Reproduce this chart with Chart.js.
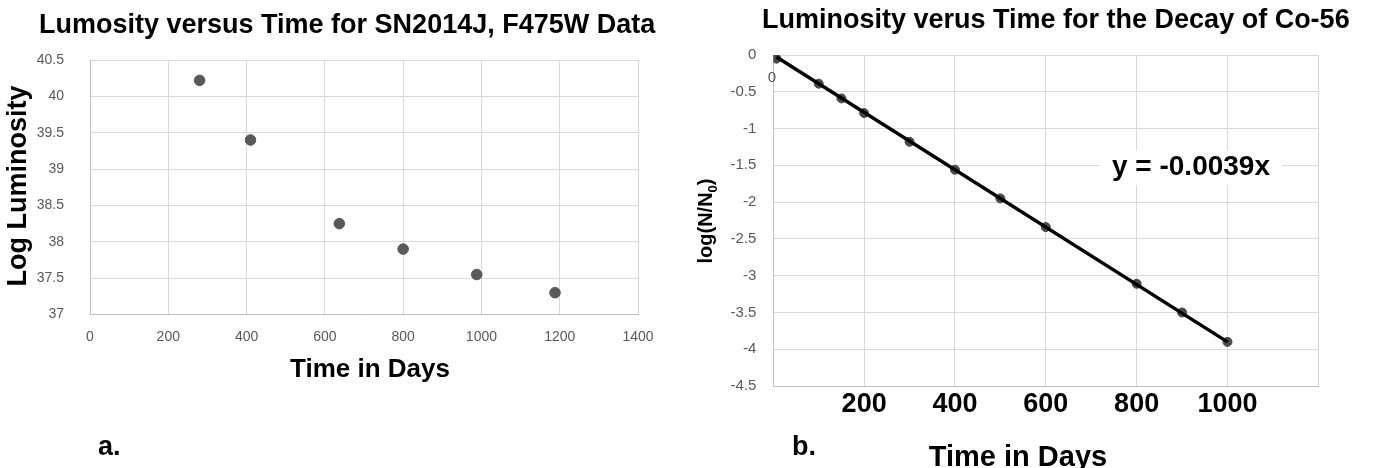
<!DOCTYPE html>
<html>
<head>
<meta charset="utf-8">
<script src="https://cdn.jsdelivr.net/npm/chart.js@4.4.0/dist/chart.umd.min.js"></script>
<style>
  html, body { margin: 0; padding: 0; background: #fff; }
  #wrap { position: relative; width: 1375px; height: 468px; overflow: hidden; }
  #boxA { position: absolute; left: 0; top: 0; width: 690px; height: 468px; }
  #boxB { position: absolute; left: 690px; top: 0; width: 685px; height: 468px; }
</style>
</head>
<body>
<div id="wrap">
  <div id="boxA"><canvas id="chartA" width="690" height="468"></canvas></div>
  <div id="boxB"><canvas id="chartB" width="685" height="468"></canvas></div>
</div>
<script>
// ---- datos panel a (SN2014J, F475W) ----
const diasA = [280, 410, 637, 800, 988, 1188];
const logLumA = [40.22, 39.40, 38.25, 37.90, 37.55, 37.30];
const ticksXA = [0, 200, 400, 600, 800, 1000, 1200, 1400];
const ticksYA = [37, 37.5, 38, 38.5, 39, 39.5, 40, 40.5];

// ---- datos panel b (Co-56) ----
const diasB = [7, 100, 150, 200, 300, 400, 500, 600, 800, 900, 1000];
const logNB = [-0.05, -0.39, -0.59, -0.79, -1.18, -1.56, -1.95, -2.34, -3.11, -3.50, -3.90];
const pendienteB = -0.0039;   // linea de tendencia, y = -0.0039x
const ticksXB = [0, 200, 400, 600, 800, 1000, 1200];
const etiquetasXB = ['', '200', '400', '600', '800', '1000', ''];
const ticksYB = [0, -0.5, -1, -1.5, -2, -2.5, -3, -3.5, -4, -4.5];

const FAM = "'Liberation Sans', Arial, sans-serif";
const GRIS = '#595959';
const GRID = '#d9d9d9';

// fija los ticks a partir de una lista
function fijarTicks(lista) {
  return function (scale) { scale.ticks = lista.map(v => ({ value: v })); };
}

// dibuja textos sueltos (titulos, etiquetas) sobre el canvas
function pluginTextos(items) {
  return {
    id: 'textos',
    afterDraw(chart) {
      const ctx = chart.ctx;
      items.forEach(t => {
        ctx.save();
        ctx.font = t.font;
        ctx.fillStyle = t.color || '#000';
        ctx.textAlign = t.align || 'center';
        ctx.textBaseline = 'alphabetic';
        if (t.fondo) {
          ctx.fillStyle = '#fff';
          ctx.fillRect(t.fondo[0], t.fondo[1], t.fondo[2], t.fondo[3]);
          ctx.fillStyle = t.color || '#000';
        }
        ctx.translate(t.x, t.y);
        if (t.rot) ctx.rotate(t.rot);
        if (t.sub) {
          // texto con subindice: partes [normal, sub, normal]
          const normal = t.font;
          const chico = t.fontSub;
          ctx.font = normal;
          const w1 = ctx.measureText(t.sub[0]).width;
          const w3 = ctx.measureText(t.sub[2]).width;
          ctx.font = chico;
          const w2 = ctx.measureText(t.sub[1]).width;
          let x = -(w1 + w2 + w3) / 2;
          ctx.textAlign = 'left';
          ctx.font = normal; ctx.fillText(t.sub[0], x, 0); x += w1;
          ctx.font = chico; ctx.fillText(t.sub[1], x, 5); x += w2;
          ctx.font = normal; ctx.fillText(t.sub[2], x, 0);
        } else {
          ctx.fillText(t.text, 0, 0);
        }
        ctx.restore();
      });
    }
  };
}

// ---------- Grafico a ----------
new Chart(document.getElementById('chartA'), {
  type: 'scatter',
  data: {
    datasets: [{
      data: diasA.map((d, i) => ({ x: d, y: logLumA[i] })),
      backgroundColor: GRIS,
      borderColor: GRIS,
      pointRadius: 5.3,
      pointHoverRadius: 5.3
    }]
  },
  options: {
    responsive: false,
    animation: false,
    layout: { padding: { left: 0, top: 60, right: 52, bottom: 93.5 } },
    plugins: { legend: { display: false }, tooltip: { enabled: false }, title: { display: false } },
    scales: {
      x: {
        type: 'linear', min: 0, max: 1400,
        afterBuildTicks: fijarTicks(ticksXA),
        afterFit: s => { s.height = 60; },
        grid: { color: GRID, drawTicks: false },
        border: { color: '#bfbfbf' },
        ticks: { color: GRIS, padding: 14, font: { family: FAM, size: 14 }, maxRotation: 0, callback: v => String(v) }
      },
      y: {
        type: 'linear', min: 37, max: 40.5,
        afterBuildTicks: fijarTicks(ticksYA),
        afterFit: s => { s.width = 90; },
        grid: { color: GRID, drawTicks: false },
        border: { color: '#bfbfbf' },
        ticks: { color: GRIS, padding: 26, font: { family: FAM, size: 14 }, callback: v => String(v) }
      }
    }
  },
  plugins: [pluginTextos([
    { text: 'Lumosity versus Time for SN2014J, F475W Data', x: 39, y: 33, align: 'left', font: 'bold 27px ' + FAM },
    { text: 'Log Luminosity', x: 26, y: 186, rot: -Math.PI / 2, font: 'bold 27px ' + FAM },
    { text: 'Time in Days', x: 370, y: 377, font: 'bold 26px ' + FAM },
    { text: 'a.', x: 98, y: 455, align: 'left', font: 'bold 27px ' + FAM }
  ])]
});

// ---------- Grafico b ----------
const xMinB = Math.min(...diasB);
const xMaxB = Math.max(...diasB);

new Chart(document.getElementById('chartB'), {
  type: 'scatter',
  data: {
    datasets: [
      {
        // linea de tendencia (encima de los puntos)
        data: [{ x: xMinB, y: pendienteB * xMinB }, { x: xMaxB, y: pendienteB * xMaxB }],
        showLine: true,
        borderColor: '#000',
        borderWidth: 3.5,
        pointRadius: 0,
        pointHoverRadius: 0
      },
      {
        data: diasB.map((d, i) => ({ x: d, y: logNB[i] })),
        backgroundColor: '#4a4a4a',
        borderColor: '#4a4a4a',
        pointRadius: 4.5,
        pointHoverRadius: 4.5
      }
    ]
  },
  options: {
    responsive: false,
    animation: false,
    layout: { padding: { left: 0, top: 55, right: 56.7, bottom: 32 } },
    plugins: { legend: { display: false }, tooltip: { enabled: false }, title: { display: false } },
    scales: {
      x: {
        type: 'linear', min: 0, max: 1200,
        afterBuildTicks: fijarTicks(ticksXB),
        afterFit: s => { s.height = 50; },
        grid: { color: GRID, drawTicks: false },
        border: { color: '#bfbfbf' },
        ticks: {
          color: '#000', padding: 2, maxRotation: 0,
          font: { family: FAM, size: 27, weight: 'bold' },
          callback: (v, i) => etiquetasXB[i]
        }
      },
      y: {
        type: 'linear', min: -4.5, max: 0,
        afterBuildTicks: fijarTicks(ticksYB),
        afterFit: s => { s.width = 83.3; },
        grid: { color: GRID, drawTicks: false },
        border: { color: '#bfbfbf' },
        ticks: { color: GRIS, padding: 17, font: { family: FAM, size: 15 }, callback: v => String(v) }
      }
    }
  },
  plugins: [pluginTextos([
    { text: 'Luminosity verus Time for the Decay of Co-56', x: 72, y: 28, align: 'left', font: 'bold 27px ' + FAM },
    { sub: ['log(N/N', '0', ')'], x: 22, y: 221, rot: -Math.PI / 2, font: 'bold 20px ' + FAM, fontSub: 'bold 13px ' + FAM },
    { text: 'Time in Days', x: 328, y: 466, font: 'bold 29px ' + FAM },
    { text: 'b.', x: 102, y: 455, align: 'left', font: 'bold 27px ' + FAM },
    { text: 'y = -0.0039x', x: 501, y: 175, font: 'bold 28px ' + FAM, fondo: [410, 150, 182, 35] },
    { text: '0', x: 82, y: 82, color: GRIS, font: '15px ' + FAM }
  ])]
});
</script>
</body>
</html>
